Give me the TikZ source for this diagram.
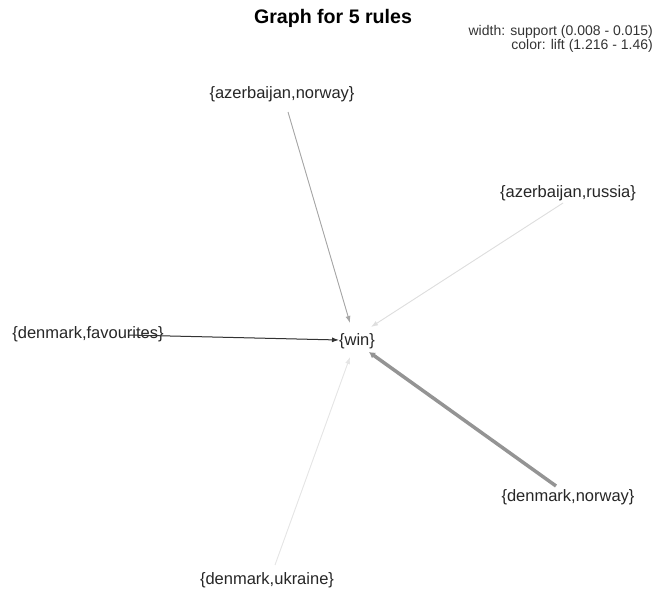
\documentclass[tikz,border=0pt]{standalone}
\usepackage{fontspec}
\setmainfont{Liberation Sans}
\usetikzlibrary{arrows.meta}
\begin{document}
\begin{tikzpicture}[x=1pt,y=-1pt,
  lbl/.style={inner sep=0pt, font=\fontsize{16.5}{19}\selectfont, text=black!85},
  leg/.style={anchor=east, inner sep=0pt, font=\fontsize{14}{16}\selectfont, text=black!80},
  edge/.style={-{Latex[length=7pt,width=5pt]}, shorten >=0pt},
]
\useasboundingbox (0,0) rectangle (658,596);
\node[font=\fontsize{19.6}{23}\selectfont\bfseries] (title) at (333,18) {Graph for 5 rules};
\node[leg] (leg1) at (653,32) {width: support (0.008 - 0.015)};
\node[leg] (leg2) at (653,46) {color: lift (1.216 - 1.46)};

\node[lbl] (an) at (282,94) {\{azerbaijan,norway\}};
\node[lbl] (ar) at (568,193) {\{azerbaijan,russia\}};
\node[lbl] (df) at (88,334) {\{denmark,favourites\}};
\node[lbl] (win) at (357,341) {\{win\}};
\node[lbl] (dn) at (568,497) {\{denmark,norway\}};
\node[lbl] (du) at (267,580) {\{denmark,ukraine\}};

\coordinate (anS) at (288,112);
\coordinate (anT) at (350,323);
\coordinate (arS) at (563,203);
\coordinate (arT) at (371,327);
\coordinate (dfS) at (128,335);
\coordinate (dfT) at (339,340);
\coordinate (dnS) at (556,486);
\coordinate (dnT) at (369,352);
\coordinate (duS) at (275,565);
\coordinate (duT) at (350,357);

\draw[edge, draw=black!35, fill=black!35, line width=0.9pt] (anS) -- (anT);
\draw[edge, draw=black!13, fill=black!13, line width=0.9pt] (arS) -- (arT);
\draw[edge, draw=black!80, fill=black!80, line width=1pt] (dfS) -- (dfT);
\draw[edge, draw=black!42, fill=black!42, line width=3.5pt, -{Latex[length=6pt,width=7pt]}] (dnS) -- (dnT);
\draw[edge, draw=black!10, fill=black!10, line width=0.9pt] (duS) -- (duT);
\end{tikzpicture}
\end{document}
